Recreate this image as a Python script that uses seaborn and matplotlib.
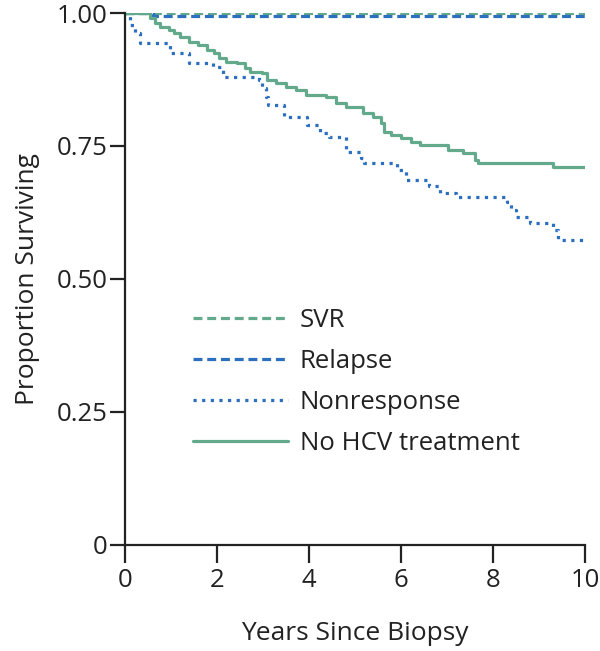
import pandas as pd
import matplotlib.pyplot as plt
import seaborn as sns

# Kaplan-Meier step curves
svr_years = [0, 10]
svr_surv = [1.0, 1.0]

relapse_years = [0, 0.6, 10]
relapse_surv = [1.0, 0.995, 0.995]

nonresp_years = [0, 0.1, 0.2, 0.32, 0.96, 1.38, 1.9, 2.13, 2.9, 2.98, 3.05, 3.1,
                 3.44, 3.96, 4.24, 4.43, 4.8, 5.12, 5.2, 5.9, 6.1, 6.6, 6.84,
                 7.2, 8.3, 8.4, 8.5, 8.8, 9.3, 9.42, 10]
nonresp_surv = [1.0, 0.977, 0.962, 0.944, 0.925, 0.906, 0.899, 0.880, 0.874,
                0.859, 0.842, 0.827, 0.805, 0.789, 0.774, 0.767, 0.739, 0.727,
                0.718, 0.705, 0.686, 0.675, 0.662, 0.654, 0.645, 0.629, 0.617,
                0.605, 0.592, 0.573, 0.573]

nohcv_years = [0, 0.54, 0.65, 0.76, 0.94, 1.05, 1.19, 1.38, 1.59, 1.78, 1.92,
               2.03, 2.18, 2.43, 2.61, 2.72, 2.98, 3.09, 3.27, 3.49, 3.71, 3.92,
               4.36, 4.58, 4.8, 5.16, 5.38, 5.56, 5.63, 5.78, 6.0, 6.22, 6.4,
               7.02, 7.34, 7.6, 7.67, 9.31, 10]
nohcv_surv = [1.0, 0.99, 0.982, 0.974, 0.968, 0.962, 0.955, 0.945, 0.94, 0.93,
              0.925, 0.915, 0.908, 0.906, 0.897, 0.889, 0.887, 0.874, 0.868,
              0.861, 0.855, 0.846, 0.842, 0.831, 0.823, 0.812, 0.805, 0.793,
              0.776, 0.771, 0.765, 0.758, 0.752, 0.742, 0.737, 0.724, 0.718,
              0.711, 0.711]

green = "#63a98b"
blue = "#2c6fbe"

curves = [
    ("SVR", svr_years, svr_surv, green, (0, (2.8, 1.5))),
    ("Relapse", relapse_years, relapse_surv, blue, (0, (2.8, 1.5))),
    ("Nonresponse", nonresp_years, nonresp_surv, blue, (0, (1, 1.7))),
    ("No HCV treatment", nohcv_years, nohcv_surv, green, "-"),
]

sns.set_style("ticks")
plt.rcParams["font.family"] = ["Open Sans", "DejaVu Sans"]

fig = plt.figure(figsize=(6, 6.51), dpi=100)
ax = fig.add_axes([0.209, 0.163, 0.766, 0.817])

for name, yrs, surv, col, ls in curves:
    df = pd.DataFrame({"Years": yrs, "Surv": surv})
    sns.lineplot(data=df, x="Years", y="Surv", ax=ax, color=col, linestyle=ls,
                 linewidth=2.3, drawstyle="steps-post", estimator=None,
                 sort=False, label=name)

ax.set_xlim(0, 10)
ax.set_ylim(0, 1.0)
ax.set_xticks([0, 2, 4, 6, 8, 10])
ax.set_yticks([0, 0.25, 0.5, 0.75, 1.0])
ax.set_yticklabels(["0", "0.25", "0.50", "0.75", "1.00"])
ax.tick_params(axis="both", labelsize=18.5, width=1.6, color="#222222",
               labelcolor="#222222")
ax.tick_params(axis="x", direction="out", length=13, pad=4)
ax.tick_params(axis="y", direction="out", length=11, pad=2)
for s in ["left", "bottom"]:
    ax.spines[s].set_linewidth(1.6)
    ax.spines[s].set_color("#222222")
ax.spines["top"].set_visible(False)
ax.spines["right"].set_visible(False)

ax.set_xlabel("Years Since Biopsy", fontsize=19, labelpad=20, color="#222222")
ax.set_ylabel("Proportion Surviving", fontsize=19, labelpad=12, color="#222222")

leg = ax.legend(loc="upper left", bbox_to_anchor=(0.096, 0.489), frameon=False,
                fontsize=18.5, handlelength=3.7, handletextpad=0.47,
                labelspacing=0.62)
for t in leg.get_texts():
    t.set_color("#222222")

plt.savefig("out.png", dpi=100)
